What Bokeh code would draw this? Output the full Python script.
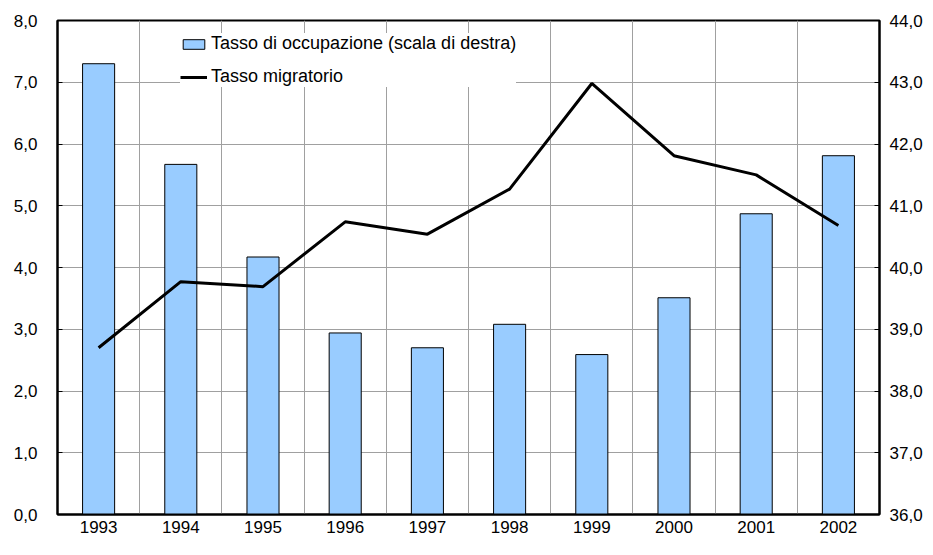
from bokeh.plotting import figure
from bokeh.models import Range1d, LinearAxis, FixedTicker, Legend, LegendItem, ColumnDataSource
from bokeh.embed import file_html
from bokeh.resources import INLINE

years = ["1993", "1994", "1995", "1996", "1997", "1998", "1999", "2000", "2001", "2002"]
occupazione = [43.30, 41.67, 40.17, 38.94, 38.70, 39.08, 38.59, 39.51, 40.87, 41.81]
migratorio = [2.70, 3.77, 3.69, 4.74, 4.54, 5.27, 6.98, 5.81, 5.50, 4.68]
left_ticks = [0, 1, 2, 3, 4, 5, 6, 7, 8]
left_labels = ["0,0", "1,0", "2,0", "3,0", "4,0", "5,0", "6,0", "7,0", "8,0"]
right_ticks = [36, 37, 38, 39, 40, 41, 42, 43, 44]
right_labels = ["36,0", "37,0", "38,0", "39,0", "40,0", "41,0", "42,0", "43,0", "44,0"]

xpos = [i + 0.5 for i in range(len(years))]
src = ColumnDataSource(dict(x=xpos, occ=occupazione, mig=migratorio))

FONT = "Liberation Sans"

p = figure(width=925, height=539, output_backend="svg", toolbar_location=None,
           x_range=Range1d(0, len(years)), y_range=Range1d(0, 8),
           min_border_left=57, min_border_right=45, min_border_top=20, min_border_bottom=25)
p.extra_y_ranges = {"right": Range1d(36, 44)}

p.outline_line_color = "black"
p.outline_line_width = 2

bars = p.vbar(x="x", top="occ", bottom=36, width=0.39, source=src, y_range_name="right",
              fill_color="#99CCFF", line_color="black", line_width=1)
line = p.line(x="x", y="mig", source=src, line_color="black", line_width=3)

# x axis
xa = p.xaxis[0]
xa.ticker = FixedTicker(ticks=xpos)
xa.major_label_overrides = {x: y for x, y in zip(xpos, years)}
xa.major_tick_in = 0
xa.major_tick_out = 0
xa.minor_tick_line_color = None
xa.axis_line_width = 2
xa.axis_line_color = "black"
xa.major_label_text_font = FONT
xa.major_label_text_font_size = "17px"
xa.major_label_text_color = "black"
xa.major_label_standoff = 6

# left axis
ya = p.yaxis[0]
ya.ticker = FixedTicker(ticks=left_ticks)
ya.major_label_overrides = {t: l for t, l in zip(left_ticks, left_labels)}
ya.major_tick_in = 5
ya.major_tick_out = 0
ya.minor_tick_line_color = None
ya.axis_line_width = 2
ya.axis_line_color = "black"
ya.major_label_text_font = FONT
ya.major_label_text_font_size = "17px"
ya.major_label_text_color = "black"
ya.major_label_standoff = 20

# right axis
ra = LinearAxis(y_range_name="right", ticker=FixedTicker(ticks=right_ticks))
ra.major_label_overrides = {t: l for t, l in zip(right_ticks, right_labels)}
ra.major_tick_in = 5
ra.major_tick_out = 0
ra.minor_tick_line_color = None
ra.axis_line_width = 2
ra.axis_line_color = "black"
ra.major_label_text_font = FONT
ra.major_label_text_font_size = "17px"
ra.major_label_text_color = "black"
ra.major_label_standoff = 10
p.add_layout(ra, "right")

# grids
p.xgrid.ticker = FixedTicker(ticks=list(range(1, len(years))))
p.xgrid.grid_line_color = "#A0A0A0"
p.xgrid.grid_line_width = 1
p.ygrid.ticker = FixedTicker(ticks=left_ticks)
p.ygrid.grid_line_color = "#A0A0A0"
p.ygrid.grid_line_width = 1

legend = Legend(items=[LegendItem(label="Tasso di occupazione (scala di destra)", renderers=[bars]),
                       LegendItem(label="Tasso migratorio", renderers=[line])],
                location=(123, 427))
legend.label_text_font = FONT
legend.label_text_font_size = "18px"
legend.label_text_color = "black"
legend.glyph_width = 27
legend.glyph_height = 12
legend.label_height = 18
legend.spacing = 12
legend.padding = 10
legend.label_standoff = 4
legend.border_line_color = None
legend.background_fill_color = "white"
legend.background_fill_alpha = 1
legend.margin = 0
p.add_layout(legend, "center")

open("out.html", "w").write(file_html(p, INLINE))
